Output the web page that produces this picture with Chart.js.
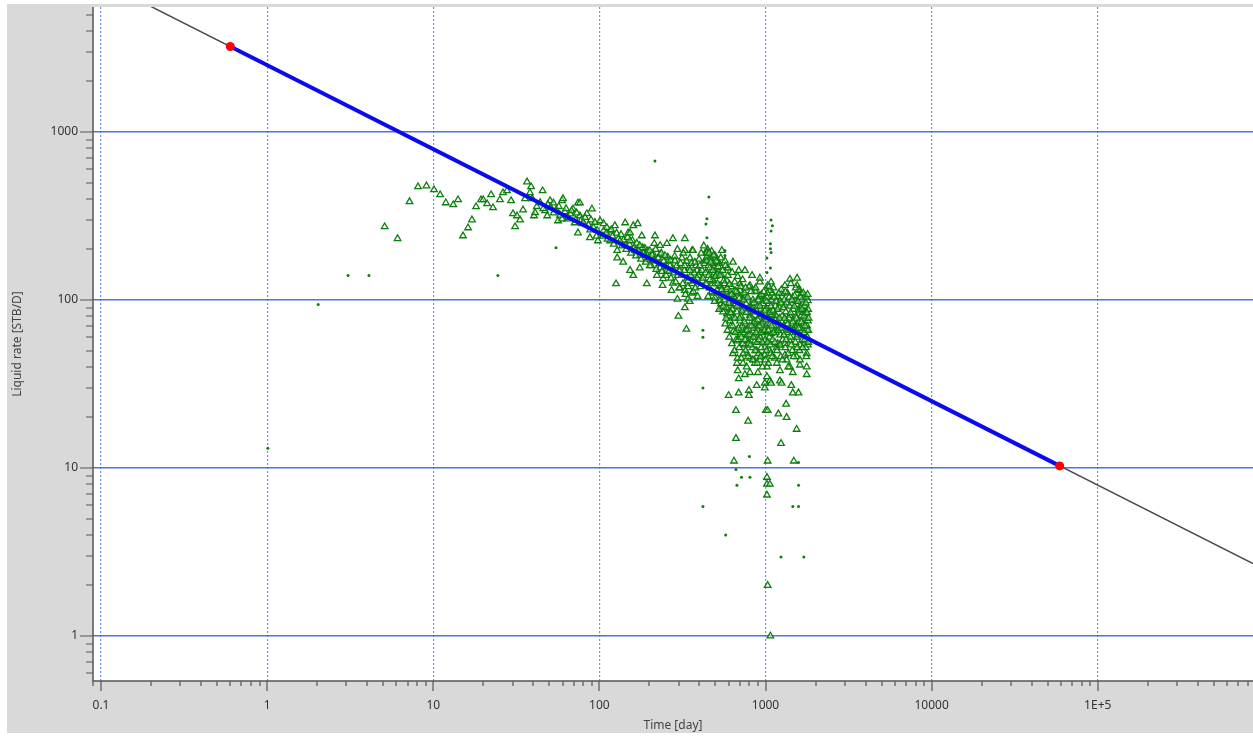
<!DOCTYPE html>
<html>
<head>
<meta charset="utf-8">
<script src="https://cdn.jsdelivr.net/npm/chart.js@4/dist/chart.umd.min.js"></script>
<style>
  html, body { margin: 0; padding: 0; background: #fff; }
  #wrap { width: 1253px; height: 736px; }
</style>
</head>
<body>
<div id="wrap"><canvas id="chartCanvas" width="1253" height="736"></canvas></div>
<script>
// ---------- DATA ----------
// axis ranges
const xRange = [0.0895, 860000];
const yRange = [0.54, 5550];

// labelled decades
const xTickValues = [0.1, 1, 10, 100, 1000, 10000, 100000];
const xTickLabels = ["0.1", "1", "10", "100", "1000", "10000", "1E+5"];
const yTickValues = [1, 10, 100, 1000];
const yTickLabels = ["1", "10", "100", "1000"];

// decline line (black, full extent) and fitted segment (blue) with its end markers
const declineTime = [0.09, 860000];
const declineRate = [8330, 2.7];
const fitTime = [0.6, 59000];
const fitRate = [3230, 10.3];

// measured liquid rate, triangles [time day, rate STB/D]
const triangles = [
  [5.1,273],[6.1,232],[7.2,385],[8.1,472],[9.1,478],[10.1,453],[11,423],[11.9,379],[13.2,369],[14.1,395],
  [15.1,241],[16.2,269],[17.1,300],[18.1,359],[19.4,395],[20,395],[21.1,374],[22.3,423],[22.9,354],[25.2,395],
  [26.3,435],[27.8,447],[29.4,390],[30.2,326],[31.1,273],[31.9,317],[33.3,300],[34.7,344],[36.7,505],[38.2,435],
  [38.8,472],[35.7,401],[40.4,317],[41,331],[45.5,447],[39.4,401],[47.1,340],[48.5,317],[50.5,390],[52.9,378],
  [59.6,390],[60.4,401],[74.3,378],[76.4,378],[69.4,348],[76.4,317],[84.1,326],[90.2,348],[56.4,296],[59.6,304],
  [74.3,251],[87.7,235],[101,296],[106,285],[111,270],[116,258],[124,277],[143,288],[160,277],[170,285],
  [149,251],[116,225],[98,225],[128,197],[128,178],[139,168],[153,150],[160,140],[175,155],[193,174],
  [210,190],[214,217],[232,187],[255,217],[277,232],[327,232],[295,200],[327,197],[361,197],[314,178],
  [351,178],[175,184],[188,203],[259,171],[232,155],[255,150],[222,140],[242,134],[277,126],[305,118],
  [327,114],[361,110],[403,146],[432,171],[126,125],[193,125],[295,101],[327,90],[299,80],[341,101],
  [387,150],[106,258],[96,240],[88,261],[79,285],[71,288],[64,304],[334,67],[690,150],[444,197],
  [586,155],[444,190],
  [42,360],[44,380],[46,350],[49,370],[51,355],[53,330],[55,345],[57,360],[58,320],[62,335],
  [63,350],[65,310],[67,325],[68,340],[72,300],[73,330],[78,300],[80,290],[82,310],[86,280],
  [89,300],[92,270],[94,290],[97,260],
  [105,240],[110,250],[112,230],[118,262],[120,240],[122,215],[127,250],[130,232],[135,245],[137,210],
  [140,228],[145,200],[148,236],[152,214],[155,190],[158,226],[162,205],[166,183],[168,218],[172,196],
  [178,175],[182,205],[185,190],[190,168],[196,196],[198,178],[205,160],[208,185],[212,172],[218,200],
  [220,152],[226,178],[230,165],[236,190],[238,148],[244,170],[250,158],[252,140],[258,180],[262,148],
  [268,172],[270,135],[275,155],[280,145],[284,182],[288,128],[292,160],[296,140],[300,150],[303,118],
  [308,165],[312,140],[318,125],[320,190],[325,150],[330,108],[335,170],[338,135],[342,120],[346,155],
  [350,98],[355,140],[358,165],[362,125],[368,112],[372,145],[378,118],[382,160],[390,105],[395,140],
  [398,175],[405,120],[410,190],[415,150],[418,130],[425,210],[428,165],[435,145],[438,125],[442,180],
  [448,200],[452,160],[455,140],[460,118],[466,175],[470,150],[474,195],[478,130],[485,165],[488,110],
  [492,145],[498,125],[502,180],[508,155],[512,115],[518,140],[522,100],[528,165],[535,120],[540,95],
  [545,140],[550,110],
  [366,197],[444,192],[444,171],[546,197],[570,171],[595,155],[462,155],[510,143],[586,130],[420,135],
  [387,135],[496,103],[546,90],[611,86],[702,125],[702,114],[925,128],[1080,128],[1403,133],[1550,135],
  [1250,109],[1460,104],[1660,95],[1726,86],[637,78],[732,90],[828,95],[1020,104],[1170,99],[673,66],
  [673,57],[752,66],[786,57],[885,68],[925,60],[1020,72],[1080,63],[1222,68],[1340,75],[1540,72],
  [1640,81],[1770,67],[1726,57],[1540,60],[1309,55],[1170,52],[991,52],[885,50],[772,48],[637,48],
  [673,42],[732,42],[863,42],[950,46],[1020,40],[1170,42],[1340,44],[1540,46],[1770,48],[1770,40],
  [1403,40],[1222,38],[900,37],[806,37],[680,38],[1020,35],[1460,37],[1770,36],[611,75],[586,83],
  [925,135],[1030,122],[1100,110],[1222,99],[1503,99],[1640,109],
  [655,114],[752,106],[806,122],[863,114],[991,99],[1062,86],[1140,81],[1309,93],[1403,81],[1503,70],
  [1611,114],[1726,106],[1800,75],[702,75],[806,81],[863,75],[925,86],[991,57],[1062,50],[1140,66],
  [1222,54],[1309,47],[1403,57],[1611,54],[752,54],[863,57],[655,93],[570,106],[532,122],[480,130],
  [403,160],[376,168],[496,184],[515,168],[637,168],[752,150],[830,140],[532,99],[611,106],[925,106],
  [1062,114],[1309,122],[1550,122],[1800,99],[1660,66],[1800,54],[925,44],[1062,33],[1222,33],[752,36],[1611,41],
  [133,225],[143,211],[153,225],[164,197],[175,211],[188,184],[201,197],[216,171],[232,211],[248,184],
  [266,160],[285,171],[305,150],[327,160],[351,150],[376,130],[201,160],[240,122],[272,114],[341,130],
  [216,241],[180,241],[153,251],
  [555,85],[560,130],[565,100],[572,72],[578,115],[582,90],[590,66],[596,105],[600,80],[605,60],
  [612,95],[618,70],[622,120],[628,55],[632,88],[640,65],[645,105],[650,50],[655,78],[660,95],
  [665,58],[672,85],[678,45],[682,110],[688,68],[695,52],[698,92],[705,62],[710,80],[715,45],
  [720,100],[725,70],[730,55],[738,88],[742,64],[748,110],[755,72],[760,50],[765,95],[770,40],
  [778,62],[782,85],[790,55],[795,120],[800,70],[808,45],[812,90],[820,62],[828,78],[835,52],
  [840,100],[848,68],[855,44],[860,85],[868,60],[875,112],[880,74],[888,56],[895,92],[900,66],
  [908,48],[915,80],[920,105],[928,60],[935,88],[942,52],[950,72],[958,40],[965,95],[972,64],
  [980,78],[988,47],[995,58],
  [1005,88],[1010,65],[1015,50],[1025,110],[1035,78],[1040,42],[1048,95],[1055,60],[1065,72],[1075,48],
  [1085,100],[1092,82],[1105,58],[1115,118],[1125,70],[1135,45],[1145,92],[1155,64],[1165,80],[1178,105],
  [1185,55],[1195,74],[1210,90],[1225,62],[1235,46],[1245,115],[1260,80],[1270,58],[1285,70],[1295,100],
  [1315,52],[1325,85],[1345,64],[1355,110],[1370,48],[1385,78],[1395,92],[1410,60],[1420,125],[1440,72],
  [1450,50],[1470,88],[1485,66],[1495,106],[1515,56],[1525,80],[1545,94],[1560,62],[1575,115],[1590,74],
  [1600,50],[1620,90],[1630,68],[1650,100],[1665,58],[1680,84],[1690,72],[1710,64],[1720,92],[1740,78],
  [1750,52],[1760,104],[1780,70],[1790,60],[1805,88],[1810,66],
  [452,105],[458,190],[463,132],[468,168],[476,112],[482,150],[487,185],[494,98],[500,138],[506,170],
  [514,125],[520,158],[526,88],[532,140],[538,178],[544,115],[552,150],[558,92],[566,125],[574,160],
  [580,78],[588,118],[594,140],[602,96],[608,124],[616,84],[624,108],[630,146],[636,70],[644,98],
  [652,128],[658,64],[666,112],[674,92],[680,138],[686,58],[694,102],[700,78],[708,120],[714,60],
  [722,86],[728,132],[734,48],[740,100],[746,74],[752,58],[758,118],[764,84],[772,66],[780,104],
  [786,46],[792,90],[798,62],[804,78],[812,54],[818,112],[824,70],[832,88],[838,44],[846,60],
  [852,96],[858,74],[866,50],[872,118],[878,64],[886,86],[892,42],[898,76],[906,100],[912,58],
  [918,70],[926,92],[932,46],[938,64],[946,108],[952,82],[960,56],[968,74],[976,112],[984,66],
  [992,86],[998,44],
  [1008,76],[1018,98],[1028,56],[1038,66],[1046,120],[1058,84],[1068,54],[1078,92],[1088,70],[1098,46],
  [1108,86],[1118,64],[1128,104],[1140,56],[1150,76],[1160,98],[1172,50],[1182,88],[1192,66],[1202,110],
  [1215,78],[1228,54],[1240,96],[1252,68],[1265,44],[1278,90],[1290,62],[1302,78],[1318,112],[1330,58],
  [1342,96],[1358,72],[1372,40],[1388,104],[1400,66],[1415,84],[1430,54],[1445,100],[1460,74],[1478,46],
  [1492,92],[1508,64],[1520,118],[1535,78],[1552,52],[1568,98],[1582,68],[1598,86],[1612,44],[1628,104],
  [1642,74],[1658,88],[1672,52],[1688,110],[1702,80],[1718,58],[1732,70],[1748,96],[1762,46],[1778,84],
  [1792,108],[1808,56],[1815,78],
  [690,34],[600,27],[690,28],[795,29],[795,27],[885,31],[991,32],[991,30],[1080,32],[1250,32],
  [1430,31],[1460,28],[1580,28],[664,22],[786,19],[1005,22],[1030,22],[1195,21],[1330,24],[1340,20],
  [1540,17],[664,15],[1240,14],[646,11],[1030,11],[1480,11],[1020,8.8],[1020,8.0],[1062,8.0],[1020,6.9],
  [1030,2.0],[1070,1.0]
];

// small dots [time day, rate STB/D]
const dots = [
  [1.01,13.1],[2.03,94],[3.07,140],[4.1,140],[24.5,140],[54.8,205],[216,673],[456,411],[444,305],[438,284],
  [444,235],[570,197],[570,184],[1080,300],[1100,277],[1080,258],[1070,216],[1070,202],[1080,192],[1020,178],
  [1070,155],[1020,146],[420,66],[420,60],[420,30],[420,5.9],[576,4.0],[800,11.7],[664,9.8],[673,7.9],
  [717,8.8],[806,8.8],[1240,2.95],[1700,2.95],[1460,5.9],[1580,5.9],[1580,7.9],[1580,10.8]
];

// ---------- HELPERS ----------
const near = (a, b) => Math.abs(Math.log10(a) - Math.log10(b)) < 1e-6;
const isMajorX = v => xTickValues.some(t => near(t, v));
const isMajorY = v => yTickValues.some(t => near(t, v));
const toXY = arr => arr.map(p => ({x: p[0], y: p[1]}));
const zip = (xs, ys) => xs.map((v, i) => ({x: v, y: ys[i]}));

// all 1..9 x 10^n ticks inside the range
function logTicks(min, max){
  const out = [];
  for(let e = Math.floor(Math.log10(min)); e <= Math.ceil(Math.log10(max)); e++){
    for(let m = 1; m <= 9; m++){
      const v = m * Math.pow(10, e);
      if(v >= min && v <= max) out.push({value: v});
    }
  }
  return out;
}

const FONT = "'Segoe UI', 'Noto Sans', 'DejaVu Sans', sans-serif";

// ---------- PANEL + AXIS TICKS ----------
const panelPlugin = {
  id: 'panel',
  beforeDraw(chart){
    const {ctx, chartArea: a} = chart;
    ctx.save();
    ctx.fillStyle = '#ffffff';
    ctx.fillRect(0, 0, chart.width, chart.height);
    ctx.fillStyle = '#d9d9d9';
    ctx.fillRect(7, 4, chart.width - 7, 729);
    ctx.fillStyle = '#ffffff';
    ctx.fillRect(a.left, a.top, a.right - a.left, a.bottom - a.top);
    ctx.restore();
  },
  afterDraw(chart){
    const {ctx, chartArea: a, scales} = chart;
    ctx.save();
    ctx.strokeStyle = '#555';
    ctx.lineWidth = 1.5;
    ctx.beginPath();
    ctx.moveTo(a.left, a.top);
    ctx.lineTo(a.left, a.bottom);
    ctx.lineTo(a.right, a.bottom);
    ctx.stroke();

    ctx.lineWidth = 1.2;
    ctx.beginPath();
    scales.x.ticks.forEach(t => {
      const px = Math.round(scales.x.getPixelForValue(t.value));
      const len = isMajorX(t.value) ? 10 : 5;
      ctx.moveTo(px, a.bottom);
      ctx.lineTo(px, a.bottom + len);
    });
    scales.y.ticks.forEach(t => {
      const py = Math.round(scales.y.getPixelForValue(t.value));
      const len = isMajorY(t.value) ? 13 : 7;
      ctx.moveTo(a.left, py);
      ctx.lineTo(a.left - len, py);
    });
    ctx.stroke();
    ctx.restore();
  }
};

// ---------- CHART ----------
new Chart(document.getElementById("chartCanvas"), {
  type: 'scatter',
  data: {
    datasets: [
      {
        label: 'fit ends',
        data: zip(fitTime, fitRate),
        showLine: false,
        pointStyle: 'circle',
        pointRadius: 4.5,
        backgroundColor: '#ff0000',
        borderWidth: 0
      },
      {
        label: 'fit',
        data: zip(fitTime, fitRate),
        showLine: true,
        borderColor: '#0a0af0',
        borderWidth: 4,
        pointRadius: 0
      },
      {
        label: 'decline',
        data: zip(declineTime, declineRate),
        showLine: true,
        borderColor: '#4a4a4a',
        borderWidth: 1.5,
        pointRadius: 0
      },
      {
        label: 'rate',
        data: toXY(triangles),
        pointStyle: 'triangle',
        pointRadius: 3.8,
        borderWidth: 1.3,
        borderColor: '#0b7f0b',
        backgroundColor: 'rgba(255,255,255,0.4)'
      },
      {
        label: 'rate dots',
        data: toXY(dots),
        pointStyle: 'circle',
        pointRadius: 1.5,
        borderWidth: 0,
        backgroundColor: '#0b7f0b'
      }
    ]
  },
  options: {
    responsive: false,
    animation: false,
    devicePixelRatio: 1,
    layout: {autoPadding: false, padding: {left: 0, right: 0, top: 7, bottom: 0}},
    plugins: {legend: {display: false}, tooltip: {enabled: false}},
    scales: {
      x: {
        type: 'logarithmic',
        bounds: 'data',
        min: xRange[0],
        max: xRange[1],
        afterBuildTicks: s => { s.ticks = logTicks(xRange[0], xRange[1]); },
        afterFit: s => { s.height = 55; s.paddingLeft = 0; s.paddingRight = 0; },
        ticks: {
          autoSkip: false,
          maxRotation: 0,
          padding: 17,
          color: '#333',
          font: {family: FONT, size: 12},
          callback: v => {
            const i = xTickValues.findIndex(t => near(t, v));
            return i >= 0 ? xTickLabels[i] : '';
          }
        },
        grid: {
          drawTicks: false,
          lineWidth: 1.2,
          color: c => (c.tick && isMajorX(c.tick.value)) ? '#6f90f0' : 'rgba(0,0,0,0)'
        },
        border: {display: false, dash: [2, 2]},
        title: {
          display: true,
          text: 'Time [day]',
          color: '#444',
          font: {family: FONT, size: 12},
          padding: {top: 0, bottom: 3}
        }
      },
      y: {
        type: 'logarithmic',
        bounds: 'data',
        min: yRange[0],
        max: yRange[1],
        afterBuildTicks: s => { s.ticks = logTicks(yRange[0], yRange[1]); },
        afterFit: s => { s.width = 93; s.paddingTop = 0; s.paddingBottom = 0; },
        ticks: {
          autoSkip: false,
          padding: 15,
          color: '#333',
          font: {family: FONT, size: 12},
          callback: v => {
            const i = yTickValues.findIndex(t => near(t, v));
            return i >= 0 ? yTickLabels[i] : '';
          }
        },
        grid: {
          drawTicks: false,
          lineWidth: 1.5,
          color: c => (c.tick && isMajorY(c.tick.value)) ? '#4d74e3' : 'rgba(0,0,0,0)'
        },
        border: {display: false},
        title: {
          display: true,
          text: 'Liquid rate [STB/D]',
          color: '#444',
          font: {family: FONT, size: 12},
          padding: {top: 10, bottom: 0}
        }
      }
    }
  },
  plugins: [panelPlugin]
});
</script>
</body>
</html>
